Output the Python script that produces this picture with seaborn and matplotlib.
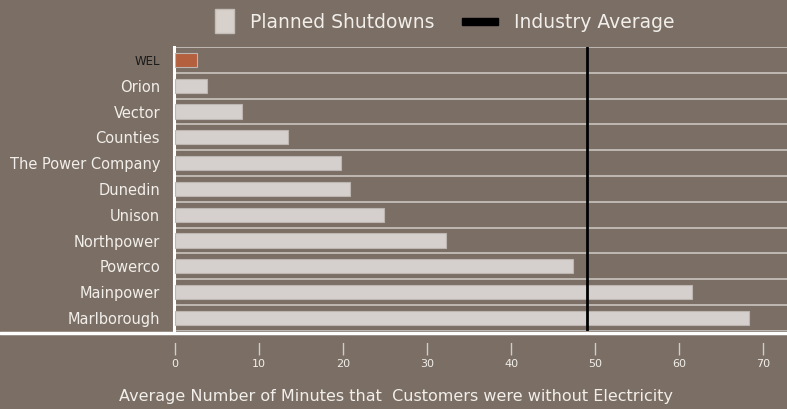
import matplotlib
matplotlib.use('Agg')
import matplotlib.pyplot as plt
import seaborn as sns
from matplotlib.patches import Patch, Rectangle
from matplotlib.lines import Line2D
from matplotlib.legend_handler import HandlerPatch

# data
companies = ['WEL', 'Orion', 'Vector', 'Counties', 'The Power Company', 'Dunedin',
             'Unison', 'Northpower', 'Powerco', 'Mainpower', 'Marlborough']
minutes = [2.6, 3.8, 8.0, 13.5, 19.8, 20.8, 24.9, 32.3, 47.3, 61.5, 68.3]
industry_average = 49.0
x_ticks = [0, 10, 20, 30, 40, 50, 60, 70]

BG = '#7a6e65'
BAR = '#d7d0cb'
HIGHLIGHT = '#c8582a'
TXT = '#f2eeea'

sns.set_theme(style='white')
plt.rcParams['font.family'] = ['DejaVu Sans']

fig = plt.figure(figsize=(7.87, 4.09), dpi=100, facecolor=BG)
ax = fig.add_axes([0.221, 0.191, 0.779, 0.694])
ax.set_facecolor(BG)

colors = [HIGHLIGHT if c == 'WEL' else BAR for c in companies]
sns.barplot(x=minutes, y=companies, hue=companies, palette=colors, legend=False,
            width=0.55, edgecolor='#bdb5b0', linewidth=0.8, ax=ax, zorder=3)

# row separators
for i in range(len(companies) + 1):
    ax.axhline(i - 0.5, color='#d2cbc6', lw=1.1, zorder=1)

ax.axvline(industry_average, color='black', lw=2, zorder=4)

ax.set_xlim(-0.1, 72.8)
ax.set_ylim(len(companies) - 0.5, -0.5)
ax.set_xticks(x_ticks)
ax.set_xlabel('')
ax.set_ylabel('')

for s in ['top', 'right']:
    ax.spines[s].set_visible(False)
ax.spines['left'].set_color('white')
ax.spines['left'].set_linewidth(2.2)
ax.spines['bottom'].set_position(('outward', 8))
ax.spines['bottom'].set_color(BG)

ax.tick_params(axis='x', bottom=True, colors='#d2cbc6', length=9, width=1,
               direction='out', labelsize=8, labelcolor=TXT, pad=3)
ax.tick_params(axis='y', left=False, length=0, labelsize=10.5, labelcolor=TXT, pad=10)
for lbl in ax.get_yticklabels():
    if lbl.get_text() == 'WEL':
        lbl.set_color('#1a1a1a')
        lbl.set_fontsize(8.5)

# full-width white base line
fig.add_artist(Line2D([0, 1], [0.186, 0.186], color='white', lw=2.5,
                      transform=fig.transFigure))

fig.text(0.503, 0.03, 'Average Number of Minutes that  Customers were without Electricity',
         ha='center', va='center', color=TXT, fontsize=11.5)


# legend handles are sized in points (1 pt = 1.39 px at 100 dpi)
def square_patch(legend, orig_handle, xdescent, ydescent, width, height, fontsize):
    return Rectangle((-xdescent, -ydescent + height / 2 - 8.6), 13.7, 17.3)


def bar_patch(legend, orig_handle, xdescent, ydescent, width, height, fontsize):
    return Rectangle((-xdescent - 12.3, -ydescent + height / 2 - 2.5), 26, 5)


avg_handle = Patch(facecolor='black', edgecolor='black')
shut_handle = Patch(facecolor=BAR, edgecolor='#c4bcb7')
leg = fig.legend([shut_handle, avg_handle], ['Planned Shutdowns', 'Industry Average'],
                 loc='center', bbox_to_anchor=(0.565, 0.946), ncol=2, frameon=False,
                 fontsize=13.5, handlelength=1.0, handleheight=1.0,
                 columnspacing=2.4, handletextpad=0.85,
                 handler_map={shut_handle: HandlerPatch(patch_func=square_patch),
                              avg_handle: HandlerPatch(patch_func=bar_patch)})
for t in leg.get_texts():
    t.set_color(TXT)

fig.savefig('out.png', dpi=100, facecolor=BG)
